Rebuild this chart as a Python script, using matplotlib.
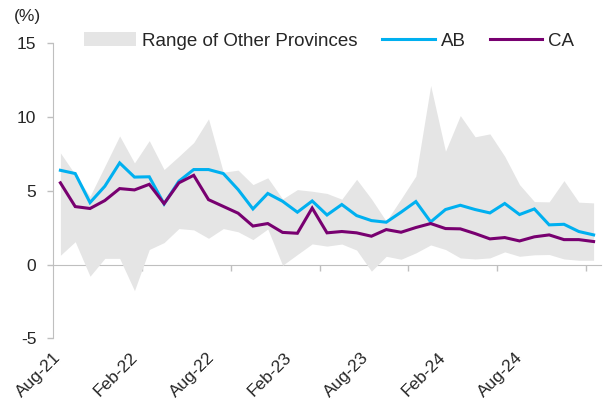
import matplotlib.pyplot as plt
import numpy as np
import pandas as pd

# %% data (monthly, Aug-21 .. Aug-24)
months = pd.date_range('2021-08-01', '2024-08-01', freq='MS')
ab = [6.39, 6.17, 4.20, 5.31, 6.89, 5.93, 5.95, 4.11, 5.65, 6.44, 6.44, 6.17, 5.08,
      3.77, 4.82, 4.29, 3.55, 4.31, 3.36, 4.07, 3.32, 2.98, 2.87, 3.55, 4.27, 2.89,
      3.73, 4.02, 3.73, 3.50, 4.14, 3.39, 3.77, 2.69, 2.73, 2.24, 2.01]
ca = [5.54, 3.93, 3.80, 4.34, 5.15, 5.06, 5.44, 4.13, 5.54, 6.05, 4.40, 3.94, 3.48,
      2.61, 2.78, 2.18, 2.12, 3.83, 2.15, 2.24, 2.15, 1.92, 2.37, 2.19, 2.51, 2.78,
      2.44, 2.42, 2.10, 1.74, 1.83, 1.60, 1.88, 2.01, 1.69, 1.69, 1.56]
rng_hi = [7.57, 6.10, 4.63, 6.67, 8.72, 6.89, 8.40, 6.44, 7.34, 8.27, 9.88, 6.26, 6.40,
          5.42, 5.88, 4.45, 5.08, 4.97, 4.82, 4.43, 5.78, 4.45, 2.94, 4.45, 6.00, 12.14,
          7.68, 10.10, 8.66, 8.86, 7.34, 5.42, 4.27, 4.25, 5.69, 4.23, 4.18]
rng_lo = [0.63, 1.55, -0.79, 0.42, 0.42, -1.77, 1.02, 1.49, 2.44, 2.35, 1.78, 2.44, 2.22,
          1.69, 2.41, -0.05, 0.68, 1.40, 1.25, 1.39, 0.98, -0.45, 0.56, 0.36, 0.79, 1.33,
          1.02, 0.45, 0.38, 0.45, 0.86, 0.56, 0.66, 0.68, 0.38, 0.29, 0.29]
labels = [m.strftime('%b-%y') for m in months[::6]]

# %%
plt.rcParams['font.family'] = ['Liberation Sans', 'DejaVu Sans']
plt.rcParams['axes.unicode_minus'] = False
txt = '#262626'
axc = '#BFBFBF'

fig = plt.figure(figsize=(6.03, 4.09), dpi=100)
ax = fig.add_axes([53/603, 1-338.3/409, 548/603, 295/409])
x = np.arange(len(months))

ax.fill_between(x, rng_lo, rng_hi, color='#E5E5E5', lw=0, label='Range of Other Provinces')
ax.plot(x, ab, color='#00B0F0', lw=2.2, label='AB', solid_joinstyle='miter')
ax.plot(x, ca, color='#780070', lw=2.2, label='CA', solid_joinstyle='miter')

ax.set_xlim(-0.5, len(months) - 0.5)
ax.set_ylim(-5, 15)
ax.set_yticks([-5, 0, 5, 10, 15])
ax.tick_params(axis='y', length=4, width=1, color=axc, labelsize=12.5, labelcolor=txt, pad=8)
for s in ['top', 'right', 'bottom']:
    ax.spines[s].set_visible(False)
ax.spines['left'].set_color(axc)

# month labels (shifted like the original export)
lab_pos = -0.15 + 5.2 * np.arange(len(labels))
ax.set_xticks(lab_pos)
ax.set_xticklabels(labels, rotation=45, ha='right', va='center', rotation_mode='anchor')
ax.tick_params(axis='x', length=0, labelsize=12.5, labelcolor=txt, pad=12)

# zero line with category boundary ticks
sec = ax.secondary_xaxis(0.25)
sec.set_xticks(np.arange(5.5, len(months), 6))
sec.set_xticklabels([])
sec.tick_params(length=4, width=1, color=axc)
sec.spines['bottom'].set_color(axc)

fig.text(27/603, 1-17/409, '(%)', ha='center', va='center', fontsize=12.5, color=txt)
fig.legend(loc='center', bbox_to_anchor=(329/603, 1-41/409), ncol=3, frameon=False,
           fontsize=13.5, handlelength=2.8, handletextpad=0.32, columnspacing=1.3,
           labelcolor=txt)

fig.savefig('out.png', dpi=100)
